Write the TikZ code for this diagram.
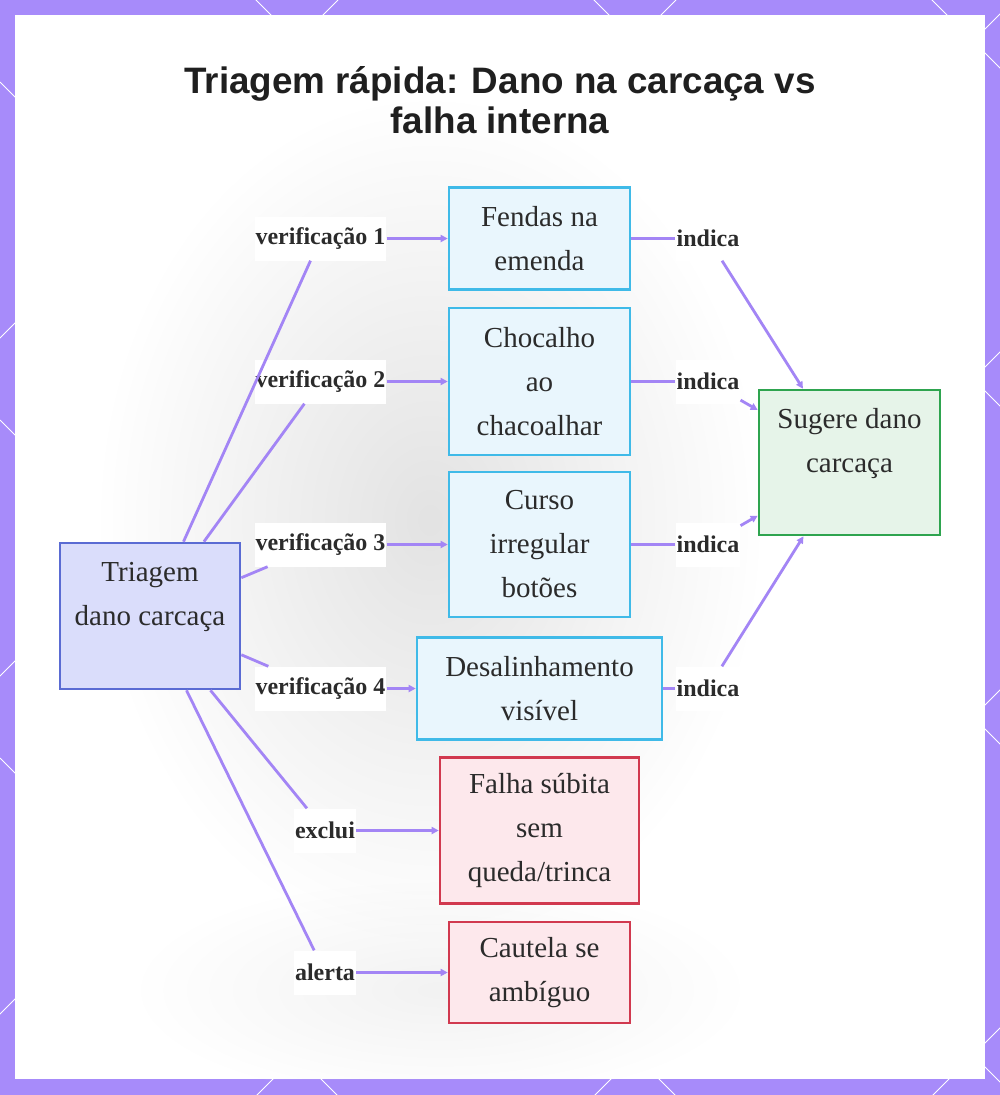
\documentclass[tikz,border=0pt]{standalone}
\usepackage{fontspec}
\setmainfont{Liberation Serif}
\newfontfamily\titlefont{Liberation Sans}
\usetikzlibrary{arrows.meta}
\definecolor{framec}{HTML}{A78BFA}
\definecolor{edgec}{HTML}{A385F5}
\definecolor{txt}{HTML}{2B2B2B}
\definecolor{startfill}{HTML}{DADDFB}
\definecolor{startdraw}{HTML}{5A6BD3}
\definecolor{bluefill}{HTML}{E9F6FD}
\definecolor{bluedraw}{HTML}{3FBAE8}
\definecolor{greenfill}{HTML}{E6F4E9}
\definecolor{greendraw}{HTML}{2EA44F}
\definecolor{redfill}{HTML}{FDE8EC}
\definecolor{reddraw}{HTML}{D1394F}
\tikzset{
  box/.style={draw, line width=2.6pt, align=center, text=txt, inner sep=0pt,
    font={\fontsize{29}{44}\selectfont}},
  startbox/.style={box, fill=startfill, draw=startdraw},
  bluebox/.style={box, fill=bluefill, draw=bluedraw},
  greenbox/.style={box, fill=greenfill, draw=greendraw},
  redbox/.style={box, fill=redfill, draw=reddraw},
  elabel/.style={fill=white, text=txt, inner xsep=1pt, inner ysep=0pt,
    minimum height=44pt, font={\fontsize{24}{28}\selectfont\bfseries}},
  edge/.style={draw=edgec, line width=2.8pt},
  arr/.style={edge, -{Triangle[length=7pt,width=7pt]}},
}
\begin{document}
\begin{tikzpicture}[x=1pt,y=-1pt]
\useasboundingbox (0,0) rectangle (1000,1095);
% frame
\fill[framec] (0,0) rectangle (1000,1095);
\begin{scope}
\clip (0,0) rectangle (1000,1095);
\foreach \c in {338,676,1014,1352,1690,2028}
  \draw[white, line width=0.9pt] (\c,0) -- ({\c-1200},1200);
\foreach \b in {-1270,-932,-594,-256,82,420,758}
  \draw[white, line width=0.9pt] (0,\b) -- (1200,{\b+1200});
\end{scope}
\fill[white] (15,15) rectangle (985,1079);
% faint blurred background
\begin{scope}
\clip (15,15) rectangle (985,1079);
\shade[inner color=black, outer color=white, opacity=0.11] (430,520) ellipse [x radius=330, y radius=420];
\shade[inner color=black, outer color=white, opacity=0.05] (440,990) ellipse [x radius=300, y radius=110];
\end{scope}
% title
\node[align=center, text=black!88, font={\fontsize{36.8}{40}\selectfont\titlefont\bfseries}] (title) at (500,100)
  {Triagem rápida: Dano na carcaça vs\\falha interna};
% nodes
\node[startbox, minimum width=180, minimum height=146] (T) at (150,616) {Triagem\\dano carcaça\\\mbox{}};
\node[bluebox, minimum width=181, minimum height=102] (F) at (539.5,238.5) {Fendas na\\emenda};
\node[bluebox, minimum width=181, minimum height=147] (C) at (539.5,381.5) {Chocalho\\ao\\chacoalhar};
\node[bluebox, minimum width=181, minimum height=145] (U) at (539.5,544.5) {Curso\\irregular\\botões};
\node[bluebox, minimum width=245, minimum height=102] (D) at (539.5,688.5) {Desalinhamento\\visível};
\node[redbox, minimum width=199, minimum height=146] (S) at (539.5,830.5) {Falha súbita\\sem\\queda/trinca};
\node[redbox, minimum width=181, minimum height=101] (A) at (539.5,972.5) {Cautela se\\ambíguo};
\node[greenbox, minimum width=181, minimum height=145] (G) at (849.5,462.5) {Sugere dano\\carcaça\\\mbox{}};
% edge labels
\node[elabel] (v1) at (320.5,238.5) {verificação 1};
\node[elabel] (v2) at (320.5,381.5) {verificação 2};
\node[elabel] (v3) at (320.5,544.5) {verificação 3};
\node[elabel] (v4) at (320.5,688.5) {verificação 4};
\node[elabel] (ex) at (325,830.5) {exclui};
\node[elabel] (al) at (325,972.5) {alerta};
\node[elabel] (i1) at (708,238.5) {indica};
\node[elabel] (i2) at (708,381.5) {indica};
\node[elabel] (i3) at (708,544.5) {indica};
\node[elabel] (i4) at (708,688.5) {indica};
% connectors
\path[edge] (T) -- (v1);
\path[edge] (T) -- (v2);
\path[edge] (T) -- (v3);
\path[edge] (T) -- (v4);
\path[edge] (T) -- (ex);
\path[edge] (T) -- (al);
\path[arr] (v1) -- (F);
\path[arr] (v2) -- (C);
\path[arr] (v3) -- (U);
\path[arr] (v4) -- (D);
\path[arr] (ex) -- (S);
\path[arr] (al) -- (A);
\path[edge] (F) -- (i1);
\path[edge] (C) -- (i2);
\path[edge] (U) -- (i3);
\path[edge] (D) -- (i4);
\path[arr] (i1) -- (G);
\path[arr] (i2) -- (G);
\path[arr] (i3) -- (G);
\path[arr] (i4) -- (G);
\end{tikzpicture}
\end{document}
